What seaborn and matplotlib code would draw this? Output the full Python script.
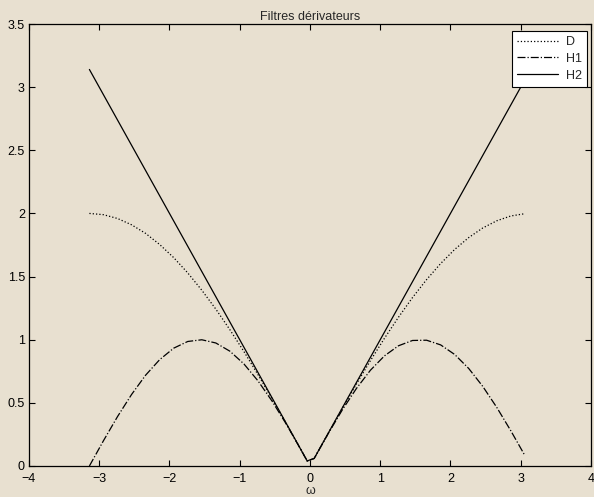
import numpy as np
import seaborn as sns
import matplotlib
matplotlib.use("Agg")
import matplotlib.pyplot as plt
from matplotlib.ticker import FuncFormatter

# frequency samples
omega = [-3.14, -2.94, -2.74, -2.54, -2.34, -2.14, -1.94, -1.74, -1.54, -1.34,
         -1.14, -0.94, -0.74, -0.54, -0.34, -0.14, -0.04,
         0.06, 0.26, 0.46, 0.66, 0.86, 1.06, 1.26, 1.46, 1.66, 1.86,
         2.06, 2.26, 2.46, 2.66, 2.86, 3.06]

D = [2.000, 1.990, 1.960, 1.910, 1.842, 1.754, 1.650, 1.529, 1.392, 1.242,
     1.079, 0.906, 0.723, 0.533, 0.338, 0.140, 0.040,
     0.060, 0.259, 0.456, 0.648, 0.834, 1.011, 1.178, 1.334, 1.476, 1.603,
     1.715, 1.809, 1.885, 1.942, 1.980, 1.998]

H1 = [0.000, 0.200, 0.391, 0.566, 0.719, 0.842, 0.933, 0.986, 0.9995, 0.974,
      0.909, 0.808, 0.674, 0.514, 0.334, 0.140, 0.040,
      0.060, 0.257, 0.444, 0.613, 0.758, 0.872, 0.952, 0.994, 0.996, 0.959,
      0.883, 0.772, 0.630, 0.463, 0.278, 0.082]

H2 = [3.14, 2.94, 2.74, 2.54, 2.34, 2.14, 1.94, 1.74, 1.54, 1.34,
      1.14, 0.94, 0.74, 0.54, 0.34, 0.14, 0.04,
      0.06, 0.26, 0.46, 0.66, 0.86, 1.06, 1.26, 1.46, 1.66, 1.86,
      2.06, 2.26, 2.46, 2.66, 2.86, 3.06]

sns.set_style("ticks")
plt.rcParams['font.family'] = ['Liberation Sans', 'DejaVu Sans']
bg = '#E8E0D0'
fs = 9

fig = plt.figure(figsize=(5.94, 4.97), dpi=100, facecolor=bg)
ax = fig.add_axes([0.0488, 0.0624, 0.9461, 0.8893])
ax.set_facecolor(bg)

sns.lineplot(x=omega, y=D, ax=ax, color='black', lw=0.9, linestyle=':', label='D', sort=False)
sns.lineplot(x=omega, y=H1, ax=ax, color='black', lw=0.9, linestyle='-.', label='H1', sort=False)
sns.lineplot(x=omega, y=H2, ax=ax, color='black', lw=0.9, linestyle='-', label='H2', sort=False)

ax.set_xlim(-4, 4)
ax.set_ylim(0, 3.5)
ax.set_xticks(np.arange(-4, 5, 1))
ax.set_yticks(np.arange(0, 3.51, 0.5))
ax.yaxis.set_major_formatter(FuncFormatter(lambda v, p: ('%g' % v)))
ax.xaxis.set_major_formatter(FuncFormatter(lambda v, p: ('%g' % v).replace('-', '\u2212')))
ax.tick_params(direction='in', length=4, width=0.8, labelsize=fs, top=True, right=True, colors='black')
ax.tick_params(axis='x', pad=5)
ax.tick_params(axis='y', pad=3)
for s in ax.spines.values():
    s.set_visible(True)
    s.set_linewidth(0.9)
    s.set_color('black')

ax.set_title('Filtres dérivateurs', fontsize=fs, pad=3)
ax.set_xlabel('ω', fontsize=fs, labelpad=0)

leg = ax.legend(loc='upper right', fontsize=fs, frameon=True, fancybox=False,
                edgecolor='black', facecolor='white', framealpha=1,
                handlelength=3.3, handletextpad=0.6, borderpad=0.4, labelspacing=0.38,
                bbox_to_anchor=(0.9925, 0.984), borderaxespad=0)
leg.get_frame().set_linewidth(0.8)

fig.savefig('out.png', dpi=100, facecolor=bg)
